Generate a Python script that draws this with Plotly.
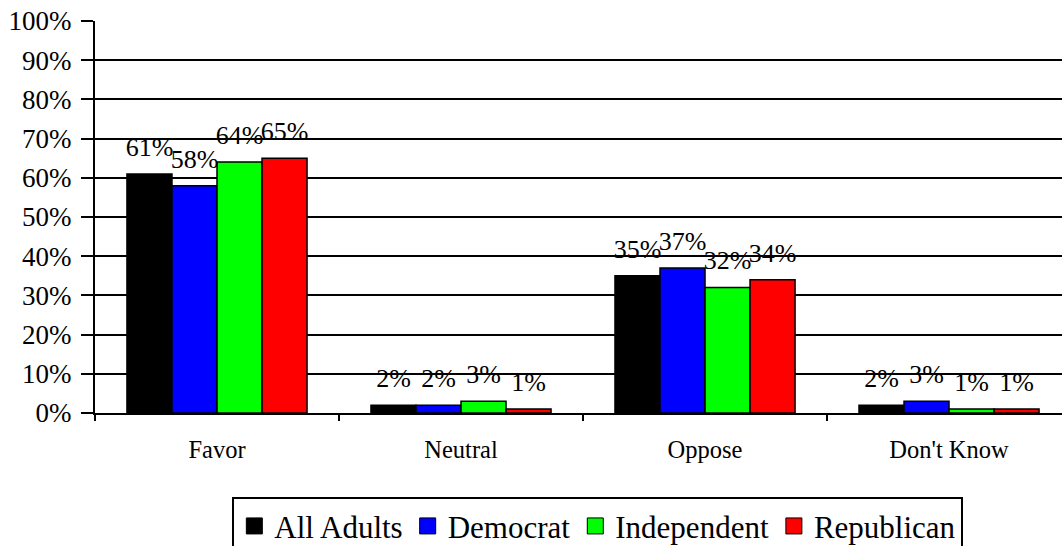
import plotly.graph_objects as go

categories = ["Favor", "Neutral", "Oppose", "Don't Know"]
groups = ["All Adults", "Democrat", "Independent", "Republican"]
all_adults = [61, 2, 35, 2]
democrat = [58, 2, 37, 3]
independent = [64, 3, 32, 1]
republican = [65, 1, 34, 1]
colors = ["#000000", "#0000FF", "#00FF00", "#FF0000"]

FONT = "Liberation Serif"
GAP = 0.262

fig = go.Figure()
for name, vals, col in zip(groups, [all_adults, democrat, independent, republican], colors):
    fig.add_trace(go.Bar(
        x=categories, y=vals, name=name,
        marker=dict(color=col, line=dict(color="black", width=1.5)),
        showlegend=False,
    ))
    # value labels, grouped like the bars, sitting a bit above them
    fig.add_trace(go.Scatter(
        x=categories, y=vals, mode="markers+text",
        text=[f"{v}%" for v in vals], textposition="top center",
        textfont=dict(family=FONT, size=26, color="black"),
        marker=dict(size=17, opacity=0),
        alignmentgroup="lbl", offsetgroup=name,
        cliponaxis=False, showlegend=False, hoverinfo="skip",
    ))
    # bigger square swatches for the legend
    fig.add_trace(go.Scatter(
        x=[None], y=[None], mode="markers", name=name,
        marker=dict(symbol="square", size=22, color=col, line=dict(color="black", width=1)),
        alignmentgroup="leg",
    ))

fig.update_layout(
    width=1062, height=546,
    margin=dict(l=95, r=0, t=21, b=133, autoexpand=False),
    plot_bgcolor="white", paper_bgcolor="white",
    font=dict(family=FONT, color="black"),
    barmode="group", bargap=GAP, bargroupgap=0,
    scattermode="group", scattergap=GAP,
    legend=dict(
        orientation="h", x=0.52, xanchor="center", y=-0.215, yanchor="top",
        font=dict(family=FONT, size=31), bordercolor="black", borderwidth=2,
        itemsizing="trace", tracegroupgap=0,
    ),
)
fig.update_xaxes(
    type="category", range=[-0.5, 3.463],
    showline=True, linecolor="black", linewidth=2,
    ticks="outside", tickson="boundaries", ticklen=6, tickwidth=2, tickcolor="black",
    tickfont=dict(family=FONT, size=24.5), ticklabelstandoff=14,
    showgrid=False,
)
fig.update_yaxes(
    range=[0, 100], dtick=10, ticksuffix="%",
    showline=True, linecolor="black", linewidth=2,
    ticks="outside", ticklen=12, tickwidth=2, tickcolor="black",
    tickfont=dict(family=FONT, size=27), ticklabelstandoff=4,
    showgrid=True, gridcolor="black", gridwidth=1.5,
    zeroline=False,
)

fig.write_html("out.html", config={"displayModeBar": False},
               post_script="document.body.style.margin='0';")
